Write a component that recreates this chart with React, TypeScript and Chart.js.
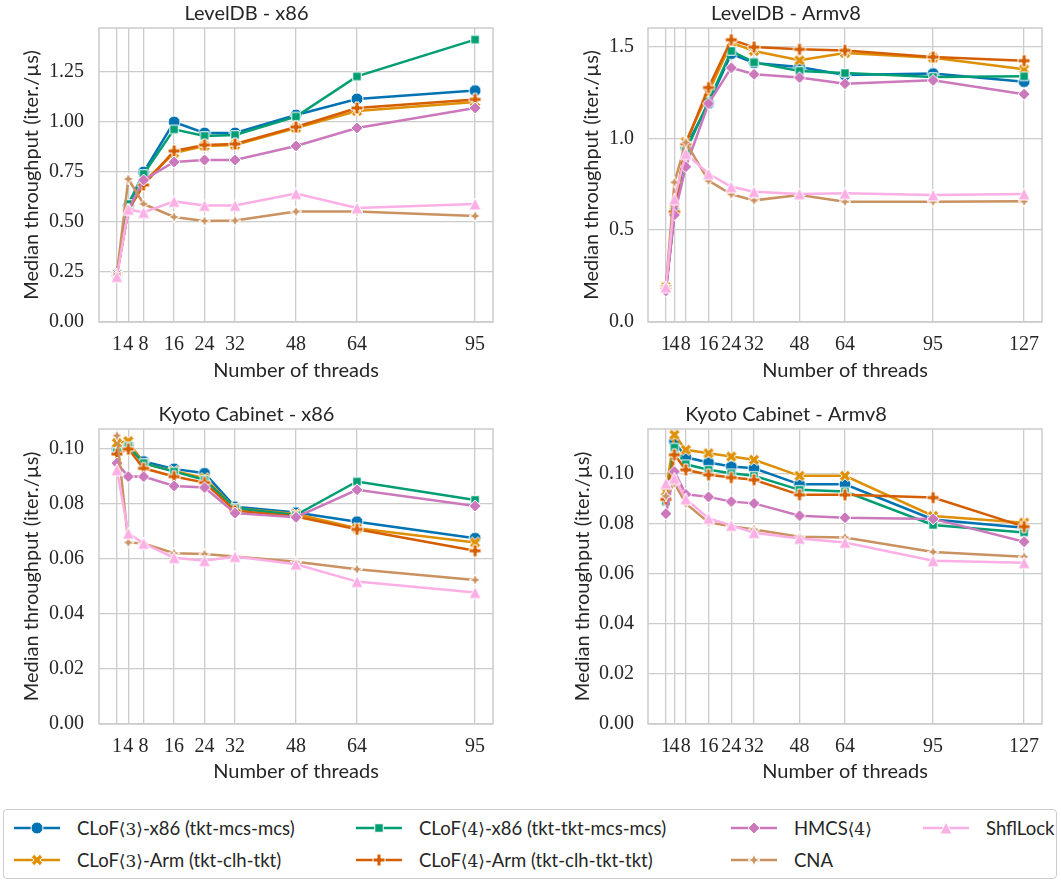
import React, { useEffect, useRef } from "react";
import { Chart, registerables } from "chart.js";
Chart.register(...registerables);

// ---------- data ----------
const threadsX86 = [1, 4, 8, 16, 24, 32, 48, 64, 95];
const threadsArm = [1, 4, 8, 16, 24, 32, 48, 64, 95, 127];

const seriesNames = [
  "CLoF⟨3⟩-x86 (tkt-mcs-mcs)",
  "CLoF⟨3⟩-Arm (tkt-clh-tkt)",
  "CLoF⟨4⟩-x86 (tkt-tkt-mcs-mcs)",
  "CLoF⟨4⟩-Arm (tkt-clh-tkt-tkt)",
  "HMCS⟨4⟩",
  "CNA",
  "ShflLock",
];
const seriesColors = ["#0173b2", "#de8f05", "#029e73", "#d55e00", "#cc78bc", "#ca9161", "#fbafe4"];
const seriesMarkers = ["circle", "x", "square", "plus", "diamond", "star", "triangle"];

// LevelDB - x86
const ldbX86Clof3x86 = [0.24, 0.58, 0.75, 1.0, 0.945, 0.945, 1.035, 1.115, 1.157];
const ldbX86Clof3arm = [0.24, 0.56, 0.7, 0.845, 0.88, 0.885, 0.97, 1.055, 1.1];
const ldbX86Clof4x86 = [0.24, 0.59, 0.74, 0.963, 0.93, 0.935, 1.027, 1.228, 1.412];
const ldbX86Clof4arm = [0.24, 0.56, 0.685, 0.855, 0.885, 0.89, 0.975, 1.07, 1.113];
const ldbX86Hmcs = [0.24, 0.56, 0.71, 0.8, 0.81, 0.81, 0.88, 0.97, 1.07];
const ldbX86Cna = [0.24, 0.715, 0.59, 0.525, 0.505, 0.507, 0.552, 0.552, 0.53];
const ldbX86Shfl = [0.227, 0.563, 0.548, 0.603, 0.583, 0.583, 0.642, 0.57, 0.59];

// LevelDB - Armv8
const ldbArmClof3x86 = [0.18, 0.6, 0.95, 1.19, 1.46, 1.41, 1.388, 1.344, 1.352, 1.308];
const ldbArmClof3arm = [0.19, 0.62, 0.98, 1.25, 1.52, 1.475, 1.424, 1.464, 1.438, 1.375];
const ldbArmClof4x86 = [0.18, 0.6, 0.93, 1.2, 1.475, 1.413, 1.366, 1.355, 1.333, 1.337];
const ldbArmClof4arm = [0.19, 0.6, 0.97, 1.276, 1.536, 1.496, 1.484, 1.478, 1.442, 1.422];
const ldbArmHmcs = [0.17, 0.583, 0.845, 1.189, 1.384, 1.348, 1.33, 1.297, 1.315, 1.24];
const ldbArmCna = [0.19, 0.76, 0.977, 0.769, 0.695, 0.662, 0.691, 0.655, 0.655, 0.657];
const ldbArmShfl = [0.19, 0.669, 0.917, 0.807, 0.736, 0.709, 0.697, 0.7, 0.691, 0.697];

// Kyoto Cabinet - x86
const kcX86Clof3x86 = [0.1, 0.1015, 0.0955, 0.0928, 0.0912, 0.079, 0.0769, 0.0736, 0.0676];
const kcX86Clof3arm = [0.1022, 0.1029, 0.0947, 0.092, 0.0894, 0.0785, 0.0764, 0.0712, 0.066];
const kcX86Clof4x86 = [0.099, 0.101, 0.0949, 0.0918, 0.0888, 0.0785, 0.076, 0.0882, 0.0815];
const kcX86Clof4arm = [0.0982, 0.1, 0.093, 0.09, 0.0878, 0.0776, 0.0755, 0.0708, 0.063];
const kcX86Hmcs = [0.0949, 0.09, 0.09, 0.0866, 0.086, 0.0767, 0.0752, 0.0852, 0.0793];
const kcX86Cna = [0.1049, 0.066, 0.0657, 0.0621, 0.0618, 0.0609, 0.059, 0.0563, 0.0524];
const kcX86Shfl = [0.0925, 0.0694, 0.0657, 0.0605, 0.0594, 0.0609, 0.0581, 0.0518, 0.0478];

// Kyoto Cabinet - Armv8
const kcArmClof3x86 = [0.0908, 0.1128, 0.1065, 0.1044, 0.1028, 0.1021, 0.0957, 0.0957, 0.0817, 0.0784];
const kcArmClof3arm = [0.0928, 0.1155, 0.1095, 0.1081, 0.1068, 0.1055, 0.0991, 0.0991, 0.0831, 0.0804];
const kcArmClof4x86 = [0.0888, 0.1104, 0.1037, 0.1015, 0.1001, 0.0991, 0.0935, 0.0928, 0.0795, 0.0765];
const kcArmClof4arm = [0.0897, 0.1075, 0.1015, 0.0995, 0.0984, 0.0975, 0.0915, 0.0915, 0.0904, 0.0788];
const kcArmHmcs = [0.084, 0.1008, 0.0917, 0.0907, 0.0888, 0.0881, 0.0832, 0.0824, 0.0819, 0.0728];
const kcArmCna = [0.091, 0.0961, 0.0881, 0.0805, 0.079, 0.0777, 0.0748, 0.0745, 0.0687, 0.0668];
const kcArmShfl = [0.0961, 0.0981, 0.0899, 0.0821, 0.0793, 0.0764, 0.0741, 0.0725, 0.0652, 0.0644];

const yTicksLdbX86 = [0, 0.25, 0.5, 0.75, 1.0, 1.25];
const yLabelsLdbX86 = ["0.00", "0.25", "0.50", "0.75", "1.00", "1.25"];
const yTicksLdbArm = [0, 0.5, 1.0, 1.5];
const yLabelsLdbArm = ["0.0", "0.5", "1.0", "1.5"];
const yTicksKc = [0, 0.02, 0.04, 0.06, 0.08, 0.1];
const yLabelsKc = ["0.00", "0.02", "0.04", "0.06", "0.08", "0.10"];

const xTitle = "Number of threads";
const yTitle = "Median throughput (iter./µs)";

// ---------- styling ----------
const TEXT = "#262626";
const GRID = "#cccccc";
const SANS = "Lato, 'Open Sans', sans-serif";
const SERIF = "'Liberation Serif', serif";
const MS = 12;

function shapePoints(shape: string): number[][] | null {
  const plus = [[-1, -3], [1, -3], [1, -1], [3, -1], [3, 1], [1, 1], [1, 3], [-1, 3], [-1, 1], [-3, 1], [-3, -1], [-1, -1]].map(
    ([a, b]) => [a / 6, b / 6]
  );
  switch (shape) {
    case "square":
      return [[-0.354, -0.354], [0.354, -0.354], [0.354, 0.354], [-0.354, 0.354]];
    case "diamond":
      return [[0, -0.5], [0.5, 0], [0, 0.5], [-0.5, 0]];
    case "triangle":
      return [[0, -0.5], [0.5, 0.5], [-0.5, 0.5]];
    case "plus":
      return plus;
    case "x": {
      const c = Math.SQRT1_2;
      return plus.map(([a, b]) => [a * c - b * c, a * c + b * c]);
    }
    case "star": {
      const pts: number[][] = [];
      for (let k = 0; k < 8; k++) {
        const ang = -Math.PI / 2 + (k * Math.PI) / 4;
        const r = k % 2 === 0 ? 0.5 : 0.2;
        pts.push([r * Math.cos(ang), r * Math.sin(ang)]);
      }
      return pts;
    }
    default:
      return null;
  }
}

function makeMarker(shape: string, color: string, size: number): HTMLCanvasElement {
  const c = document.createElement("canvas");
  const S = 20;
  c.width = S;
  c.height = S;
  const ctx = c.getContext("2d")!;
  ctx.translate(S / 2, S / 2);
  ctx.beginPath();
  const pts = shapePoints(shape);
  if (!pts) {
    ctx.arc(0, 0, size / 2, 0, Math.PI * 2);
  } else {
    pts.forEach(([a, b], i) => (i === 0 ? ctx.moveTo(a * size, b * size) : ctx.lineTo(a * size, b * size)));
    ctx.closePath();
  }
  ctx.fillStyle = color;
  ctx.fill();
  ctx.strokeStyle = "#ffffff";
  ctx.lineWidth = 1;
  ctx.lineJoin = "miter";
  ctx.stroke();
  return c;
}

function svgMarkerPath(shape: string, size: number, cx: number, cy: number): string {
  const pts = shapePoints(shape);
  if (!pts) return "";
  return pts.map(([a, b], i) => `${i === 0 ? "M" : "L"}${cx + a * size},${cy + b * size}`).join(" ") + " Z";
}

type Panel = {
  title: string;
  x: number[];
  ys: number[][];
  xMin: number;
  xMax: number;
  yMax: number;
  yTicks: number[];
  yLabels: string[];
  left: number;
  top: number;
  width: number;
  height: number;
  yAxisWidth: number;
  yTitlePad: number;
  padRight: number;
  titlePadTop: number;
  xAxisHeight: number;
  xTitlePadBottom: number;
  yTickPad: number;
};

const panels: Panel[] = [
  {
    title: "LevelDB - x86",
    x: threadsX86,
    ys: [ldbX86Clof3x86, ldbX86Clof3arm, ldbX86Clof4x86, ldbX86Clof4arm, ldbX86Hmcs, ldbX86Cna, ldbX86Shfl],
    xMin: -3.7, xMax: 99.7, yMax: 1.47,
    yTicks: yTicksLdbX86, yLabels: yLabelsLdbX86,
    left: 0, top: 0, width: 520, height: 398,
    yAxisWidth: 99, yTitlePad: 20, padRight: 27, titlePadTop: 2, xAxisHeight: 76, xTitlePadBottom: 15, yTickPad: 15,
  },
  {
    title: "LevelDB - Armv8",
    x: threadsArm,
    ys: [ldbArmClof3x86, ldbArmClof3arm, ldbArmClof4x86, ldbArmClof4arm, ldbArmHmcs, ldbArmCna, ldbArmShfl],
    xMin: -5.3, xMax: 133.3, yMax: 1.6,
    yTicks: yTicksLdbArm, yLabels: yLabelsLdbArm,
    left: 530, top: 0, width: 530, height: 398,
    yAxisWidth: 118, yTitlePad: 50, padRight: 18, titlePadTop: 2, xAxisHeight: 76, xTitlePadBottom: 15, yTickPad: 14,
  },
  {
    title: "Kyoto Cabinet - x86",
    x: threadsX86,
    ys: [kcX86Clof3x86, kcX86Clof3arm, kcX86Clof4x86, kcX86Clof4arm, kcX86Hmcs, kcX86Cna, kcX86Shfl],
    xMin: -3.7, xMax: 99.7, yMax: 0.1073,
    yTicks: yTicksKc, yLabels: yLabelsKc,
    left: 0, top: 400, width: 520, height: 398,
    yAxisWidth: 99, yTitlePad: 20, padRight: 27, titlePadTop: 3, xAxisHeight: 74, xTitlePadBottom: 14, yTickPad: 15,
  },
  {
    title: "Kyoto Cabinet - Armv8",
    x: threadsArm,
    ys: [kcArmClof3x86, kcArmClof3arm, kcArmClof4x86, kcArmClof4arm, kcArmHmcs, kcArmCna, kcArmShfl],
    xMin: -5.3, xMax: 133.3, yMax: 0.1178,
    yTicks: yTicksKc, yLabels: yLabelsKc,
    left: 530, top: 400, width: 530, height: 398,
    yAxisWidth: 118, yTitlePad: 41, padRight: 18, titlePadTop: 3, xAxisHeight: 74, xTitlePadBottom: 14, yTickPad: 14,
  },
];

const framePlugin = {
  id: "frame",
  afterDatasetsDraw(chart: any) {
    const { ctx, chartArea } = chart;
    ctx.save();
    ctx.strokeStyle = GRID;
    ctx.lineWidth = 1.5;
    ctx.strokeRect(chartArea.left, chartArea.top, chartArea.right - chartArea.left, chartArea.bottom - chartArea.top);
    ctx.restore();
  },
};

function PanelChart({ p }: { p: Panel }) {
  const ref = useRef<HTMLCanvasElement>(null);
  useEffect(() => {
    const markers = seriesMarkers.map((m, i) => makeMarker(m, seriesColors[i], MS));
    const chart = new Chart(ref.current!, {
      type: "line",
      data: {
        datasets: seriesNames.map((name, i) => ({
          label: name,
          data: p.x.map((x, j) => ({ x, y: p.ys[i][j] })),
          borderColor: seriesColors[i],
          backgroundColor: seriesColors[i],
          borderWidth: 2.5,
          pointStyle: markers[i] as any,
          pointRadius: 6,
          order: seriesNames.length - i,
          tension: 0,
        })),
      },
      options: {
        animation: false,
        responsive: false,
        maintainAspectRatio: false,
        events: [],
        layout: { padding: { left: 0, right: p.padRight, top: 0, bottom: 0 } },
        plugins: {
          legend: { display: false },
          tooltip: { enabled: false },
          title: {
            display: true,
            text: p.title,
            color: TEXT,
            font: { family: SANS, size: 20, weight: "normal", lineHeight: 1.2 },
            padding: { top: p.titlePadTop, bottom: 2 },
          },
        },
        scales: {
          x: {
            type: "linear",
            min: p.xMin,
            max: p.xMax,
            afterBuildTicks: (s: any) => {
              s.ticks = p.x.map((v) => ({ value: v }));
            },
            afterFit: (s: any) => {
              s.height = p.xAxisHeight;
            },
            ticks: {
              autoSkip: false,
              maxRotation: 0,
              minRotation: 0,
              padding: 11,
              color: TEXT,
              font: { family: SERIF, size: 20, lineHeight: 1.2 },
              callback: (v: any) => String(v),
            },
            grid: { color: GRID, lineWidth: 1.3, drawTicks: false },
            border: { display: false },
            title: {
              display: true,
              text: xTitle,
              color: TEXT,
              font: { family: SANS, size: 20, lineHeight: 1.2 },
              padding: { top: 0, bottom: p.xTitlePadBottom },
            },
          },
          y: {
            type: "linear",
            min: 0,
            max: p.yMax,
            afterBuildTicks: (s: any) => {
              s.ticks = p.yTicks.map((v) => ({ value: v }));
            },
            afterFit: (s: any) => {
              s.width = p.yAxisWidth;
            },
            ticks: {
              padding: p.yTickPad,
              color: TEXT,
              font: { family: SERIF, size: 20, lineHeight: 1.2 },
              callback: (v: any) => {
                const k = p.yTicks.findIndex((t) => Math.abs(t - v) < 1e-9);
                return k >= 0 ? p.yLabels[k] : "";
              },
            },
            grid: { color: GRID, lineWidth: 1.3, drawTicks: false },
            border: { display: false },
            title: {
              display: true,
              text: yTitle,
              color: TEXT,
              font: { family: SANS, size: 20, lineHeight: 1.2 },
              padding: { top: p.yTitlePad, bottom: 0 },
            },
          },
        },
      } as any,
      plugins: [framePlugin],
    });
    return () => chart.destroy();
  }, [p]);
  return (
    <canvas
      ref={ref}
      width={p.width}
      height={p.height}
      style={{ position: "absolute", left: p.left, top: p.top, width: p.width, height: p.height }}
    />
  );
}

const legendCols = [14, 356, 731, 923];
const legendRows = [828, 860];

function LegendLabel({ text }: { text: string }) {
  const parts = text.split(/(⟨\d⟩)/);
  return (
    <span>
      {parts.map((pt, i) =>
        /⟨\d⟩/.test(pt) ? (
          <span key={i} style={{ fontFamily: "'DejaVu Serif', serif", fontSize: 17 }}>
            {pt}
          </span>
        ) : (
          <span key={i}>{pt}</span>
        )
      )}
    </span>
  );
}

function Legend() {
  return (
    <div>
      <div
        style={{
          position: "absolute",
          left: 3,
          top: 809,
          width: 1054,
          height: 70,
          border: "1px solid #cccccc",
          borderRadius: 4,
          background: "#fff",
          boxSizing: "border-box",
        }}
      />
      {seriesNames.map((name, i) => {
        const col = Math.floor(i / 2);
        const row = i % 2;
        const x = legendCols[col];
        const y = legendRows[row];
        const shape = seriesMarkers[i];
        const color = seriesColors[i];
        return (
          <div
            key={name}
            style={{
              position: "absolute",
              left: x,
              top: y - 14,
              height: 28,
              display: "flex",
              alignItems: "center",
              whiteSpace: "nowrap",
              fontFamily: SANS,
              fontSize: 18.5,
              color: TEXT,
            }}
          >
            <svg width={46} height={20} style={{ flex: "none" }}>
              <line x1={0} y1={10} x2={46} y2={10} stroke={color} strokeWidth={2.5} />
              {shape === "circle" ? (
                <circle cx={23} cy={10} r={MS / 2} fill={color} stroke="#fff" strokeWidth={1} />
              ) : (
                <path d={svgMarkerPath(shape, MS, 23, 10)} fill={color} stroke="#fff" strokeWidth={1} />
              )}
            </svg>
            <span style={{ marginLeft: 17 }}>
              <LegendLabel text={name} />
            </span>
          </div>
        );
      })}
    </div>
  );
}

export default function App() {
  return (
    <div style={{ position: "absolute", left: 0, top: 0, width: 1061, height: 882, background: "#fff", overflow: "hidden" }}>
      {panels.map((p) => (
        <PanelChart key={p.title} p={p} />
      ))}
      <Legend />
    </div>
  );
}
